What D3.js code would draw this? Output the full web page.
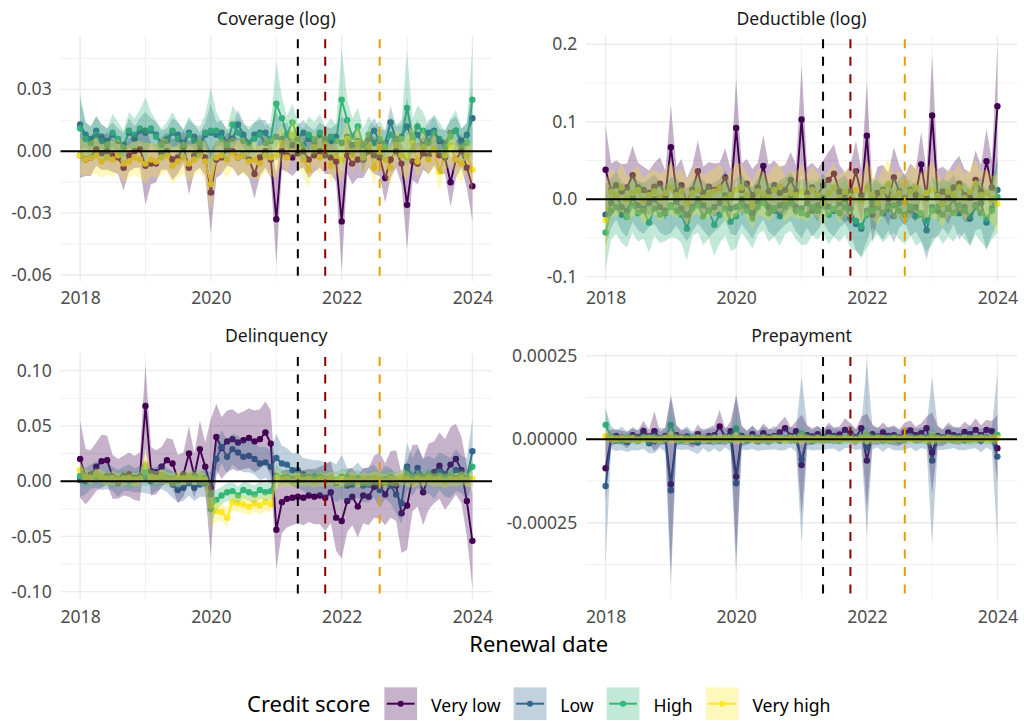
<!DOCTYPE html>
<html>
<head>
<meta charset="utf-8">
<script src="https://cdn.jsdelivr.net/npm/d3@7"></script>
<style>
  html, body { margin: 0; padding: 0; background: #ffffff; }
  svg { display: block; font-family: "Noto Sans", "Open Sans", "DejaVu Sans", sans-serif; }
</style>
</head>
<body>
<svg id="chart" width="1024" height="721"></svg>
<script>
// ---------------------------------------------------------------------------
// Monthly renewal cohorts, Jan 2018 – Jan 2024 (73 months)
// ---------------------------------------------------------------------------
const firstMonth = new Date(2018, 0, 1);
const lastMonth = new Date(2024, 0, 1);
const months = d3.timeMonth.range(firstMonth, d3.timeMonth.offset(lastMonth, 1));

const creditGroups = ["Very low", "Low", "High", "Very high"];
const groupColors = ["#440154", "#31688E", "#35B779", "#FDE725"];

// Policy event markers
const eventDates = [new Date(2021, 4, 1), new Date(2021, 9, 1), new Date(2022, 7, 1)];
const eventColors = ["#000000", "#8B0000", "#E69F00"];

const yearTicks = [2018, 2020, 2022, 2024];
const yearMinorTicks = [2019, 2021, 2023];

// ---------------------------------------------------------------------------
// Coverage (log): estimates and 95% CI half-widths
// ---------------------------------------------------------------------------
const coverageVeryLow = [
  -0.002,-0.004,-0.003,0.001,-0.001,0.000,-0.002,-0.003,-0.008,-0.002,0.000,0.001,
  -0.007,-0.006,-0.006,-0.001,0.000,-0.004,-0.003,0.002,-0.008,-0.002,0.000,-0.003,
  -0.020,-0.004,-0.003,0.001,0.000,-0.003,-0.002,-0.004,-0.011,-0.003,0.000,-0.004,
  -0.033,0.000,-0.002,-0.003,-0.001,0.000,-0.004,-0.002,0.000,-0.002,-0.003,-0.005,
  -0.034,-0.002,-0.006,-0.004,-0.004,0.000,-0.002,-0.003,-0.013,-0.004,0.000,-0.006,
  -0.026,-0.005,-0.006,-0.001,-0.002,0.001,-0.002,-0.003,-0.015,-0.004,0.000,-0.008,
  -0.017];
const coverageVeryLowCI = [
  0.011,0.008,0.009,0.008,0.008,0.009,0.008,0.008,0.011,0.008,0.008,0.009,
  0.019,0.010,0.009,0.008,0.009,0.010,0.008,0.008,0.013,0.008,0.008,0.009,
  0.020,0.009,0.008,0.008,0.008,0.009,0.008,0.009,0.012,0.009,0.008,0.009,
  0.022,0.009,0.008,0.009,0.008,0.008,0.009,0.008,0.008,0.009,0.008,0.010,
  0.024,0.009,0.010,0.009,0.009,0.008,0.009,0.009,0.012,0.009,0.008,0.010,
  0.022,0.009,0.010,0.008,0.009,0.008,0.009,0.008,0.012,0.009,0.008,0.010,
  0.017];
const coverageLow = [
  0.013,0.008,0.006,0.010,0.007,0.005,0.008,0.005,0.003,0.009,0.006,0.010,
  0.009,0.010,0.008,0.004,0.005,0.009,0.008,0.004,0.009,0.007,0.003,0.008,
  0.009,0.008,0.009,0.004,0.006,0.013,0.008,0.004,0.008,0.009,0.009,0.005,
  0.007,0.006,0.008,0.003,0.007,0.009,0.006,0.004,0.008,0.006,0.005,0.007,
  0.004,0.007,0.003,0.005,-0.004,0.006,0.010,0.005,0.004,0.014,0.006,0.007,
  0.012,0.005,0.008,0.003,0.009,0.010,0.005,0.004,0.009,0.010,0.005,0.008,
  0.016];
const coverageLowCI = [
  0.012,0.006,0.006,0.007,0.006,0.006,0.006,0.006,0.006,0.007,0.006,0.006,
  0.010,0.006,0.006,0.006,0.006,0.007,0.006,0.006,0.006,0.006,0.006,0.006,
  0.014,0.006,0.006,0.006,0.006,0.007,0.006,0.006,0.006,0.006,0.006,0.006,
  0.012,0.007,0.006,0.006,0.006,0.006,0.006,0.006,0.006,0.006,0.006,0.006,
  0.013,0.007,0.006,0.006,0.007,0.006,0.006,0.006,0.006,0.008,0.006,0.006,
  0.014,0.006,0.007,0.006,0.006,0.007,0.006,0.006,0.006,0.007,0.006,0.006,
  0.016];
const coverageHigh = [
  0.011,0.006,0.004,0.008,0.005,0.003,0.009,0.006,0.002,0.010,0.008,0.011,
  0.010,0.011,0.007,0.003,0.006,0.010,0.006,0.003,0.008,0.005,0.004,0.009,
  0.010,0.010,0.006,0.003,0.013,0.009,0.005,0.004,0.006,0.008,0.004,0.006,
  0.023,0.016,0.008,0.014,0.006,0.003,0.008,0.006,0.009,0.004,0.007,0.005,
  0.025,0.015,0.007,0.012,0.003,0.008,0.004,0.006,0.002,0.008,0.005,0.006,
  0.021,0.007,0.012,0.010,0.004,0.009,0.006,0.002,0.007,0.010,0.003,0.004,
  0.025];
const coverageHighCI = [
  0.017,0.008,0.008,0.009,0.008,0.008,0.009,0.008,0.008,0.009,0.008,0.009,
  0.016,0.008,0.008,0.008,0.008,0.009,0.008,0.008,0.009,0.008,0.008,0.009,
  0.021,0.009,0.008,0.008,0.009,0.009,0.008,0.008,0.008,0.009,0.008,0.008,
  0.021,0.010,0.009,0.009,0.008,0.008,0.009,0.008,0.009,0.008,0.009,0.008,
  0.025,0.010,0.009,0.009,0.008,0.009,0.008,0.009,0.008,0.009,0.008,0.009,
  0.028,0.009,0.010,0.009,0.008,0.009,0.008,0.008,0.009,0.010,0.008,0.009,
  0.026];
const coverageVeryHigh = [
  -0.002,-0.004,-0.003,-0.002,-0.005,-0.003,-0.004,-0.002,-0.006,-0.005,-0.003,-0.004,
  -0.006,-0.004,-0.005,-0.003,-0.002,-0.007,-0.005,-0.003,-0.006,-0.004,-0.002,-0.005,
  -0.016,-0.003,-0.002,-0.004,-0.001,-0.003,-0.002,-0.005,-0.004,-0.006,-0.002,-0.003,
  -0.002,0.004,-0.003,0.008,0.002,-0.004,-0.009,0.002,-0.003,0.003,-0.007,-0.002,
  -0.004,0.006,-0.002,0.004,-0.003,0.002,-0.008,0.001,-0.004,-0.008,0.003,-0.002,
  -0.003,0.004,-0.005,0.002,-0.004,0.001,-0.010,-0.002,0.003,-0.004,-0.006,-0.002,
  -0.009];
const coverageVeryHighCI = [
  0.009,0.008,0.008,0.009,0.008,0.008,0.009,0.008,0.009,0.008,0.008,0.009,
  0.010,0.008,0.008,0.009,0.008,0.009,0.008,0.008,0.009,0.008,0.008,0.009,
  0.013,0.008,0.008,0.009,0.008,0.008,0.009,0.008,0.009,0.008,0.008,0.009,
  0.011,0.009,0.008,0.009,0.009,0.008,0.009,0.008,0.009,0.008,0.009,0.008,
  0.011,0.009,0.008,0.009,0.008,0.009,0.009,0.008,0.009,0.009,0.008,0.009,
  0.011,0.009,0.008,0.009,0.008,0.009,0.009,0.008,0.009,0.008,0.009,0.008,
  0.012];
const coverageLimits = [-0.0629, 0.0561];
const coverageTicks = [-0.06, -0.03, 0, 0.03];
const coverageTickLabels = ["-0.06", "-0.03", "0.00", "0.03"];
const coverageMinor = [-0.045, -0.015, 0.015, 0.045];

// ---------------------------------------------------------------------------
// Deductible (log)
// ---------------------------------------------------------------------------
const deductibleVeryLow = [
  0.038,0.012,0.018,0.010,0.015,0.031,0.015,0.012,0.008,0.016,0.020,0.005,
  0.067,0.010,0.018,-0.005,0.012,0.036,0.008,0.016,0.012,0.015,0.028,0.005,
  0.092,0.012,0.020,0.005,0.015,0.043,0.010,0.018,0.008,0.012,0.025,0.010,
  0.103,0.008,0.015,0.005,0.018,0.025,0.033,0.010,0.002,0.010,0.036,0.005,
  0.082,-0.020,0.008,0.012,0.000,0.028,0.010,-0.002,0.012,0.005,0.045,0.002,
  0.108,0.005,0.010,0.002,0.015,0.020,0.005,0.002,0.025,0.010,0.049,0.015,
  0.120];
const deductibleVeryLowCI = [
  0.057,0.034,0.032,0.035,0.031,0.038,0.032,0.030,0.029,0.031,0.034,0.032,
  0.055,0.032,0.034,0.032,0.031,0.040,0.034,0.032,0.034,0.032,0.038,0.034,
  0.064,0.034,0.032,0.034,0.032,0.040,0.034,0.032,0.034,0.032,0.036,0.034,
  0.071,0.034,0.032,0.034,0.032,0.036,0.038,0.034,0.032,0.034,0.039,0.034,
  0.068,0.036,0.034,0.032,0.034,0.039,0.034,0.032,0.034,0.034,0.042,0.034,
  0.079,0.034,0.032,0.034,0.032,0.036,0.034,0.032,0.038,0.034,0.042,0.036,
  0.076];
const deductibleLow = [
  -0.020,-0.005,0.005,-0.010,-0.015,0.002,-0.008,-0.012,-0.005,0.000,-0.010,-0.015,
  -0.008,-0.003,-0.012,-0.020,-0.010,0.000,-0.008,-0.015,-0.010,-0.005,0.005,-0.012,
  -0.010,0.000,-0.010,-0.018,-0.005,0.005,-0.010,-0.015,-0.008,-0.002,0.004,-0.010,
  -0.012,-0.005,-0.015,-0.008,0.002,-0.010,-0.015,-0.005,0.000,-0.012,-0.032,-0.038,
  -0.015,-0.005,-0.010,-0.018,-0.008,-0.022,-0.005,0.002,-0.015,-0.010,-0.020,-0.040,
  -0.010,-0.015,-0.005,-0.012,0.000,-0.018,-0.010,-0.025,-0.008,-0.005,-0.030,-0.012,
  0.012];
const deductibleLowCI = [
  0.040,0.032,0.031,0.032,0.034,0.031,0.032,0.033,0.031,0.032,0.033,0.032,
  0.036,0.031,0.032,0.034,0.032,0.031,0.032,0.034,0.032,0.031,0.032,0.033,
  0.037,0.032,0.031,0.033,0.032,0.031,0.032,0.033,0.032,0.031,0.032,0.032,
  0.038,0.032,0.033,0.032,0.031,0.032,0.033,0.032,0.031,0.032,0.034,0.036,
  0.038,0.032,0.033,0.034,0.032,0.034,0.032,0.031,0.033,0.032,0.034,0.038,
  0.040,0.033,0.032,0.034,0.032,0.034,0.032,0.035,0.032,0.033,0.036,0.034,
  0.042];
const deductibleHigh = [
  -0.043,-0.015,-0.010,-0.020,-0.023,-0.008,-0.018,-0.015,-0.030,-0.012,-0.020,-0.018,
  -0.010,-0.015,-0.020,-0.038,-0.012,-0.008,-0.022,-0.015,-0.033,-0.020,-0.012,-0.029,
  -0.022,-0.008,-0.015,-0.025,-0.010,-0.005,-0.018,-0.012,-0.022,-0.010,-0.005,-0.015,
  -0.018,-0.020,-0.010,-0.015,-0.008,-0.020,-0.012,-0.018,-0.010,-0.025,-0.028,-0.035,
  -0.020,-0.015,-0.010,-0.018,-0.012,-0.008,-0.015,-0.020,-0.010,-0.022,-0.018,-0.028,
  -0.015,-0.010,-0.020,-0.012,-0.018,-0.008,-0.015,-0.022,-0.010,-0.018,-0.025,-0.015,
  0.003];
const deductibleHighCI = [
  0.048,0.037,0.035,0.037,0.039,0.035,0.037,0.036,0.039,0.035,0.037,0.036,
  0.039,0.035,0.037,0.041,0.036,0.035,0.037,0.036,0.040,0.037,0.035,0.038,
  0.041,0.035,0.037,0.039,0.036,0.035,0.037,0.036,0.038,0.035,0.036,0.037,
  0.041,0.038,0.036,0.037,0.035,0.038,0.036,0.037,0.036,0.038,0.039,0.041,
  0.043,0.037,0.036,0.038,0.036,0.035,0.037,0.038,0.036,0.038,0.037,0.040,
  0.043,0.036,0.038,0.036,0.037,0.035,0.037,0.038,0.036,0.037,0.039,0.037,
  0.046];
const deductibleVeryHigh = [
  -0.027,0.010,0.005,0.015,0.000,0.008,0.012,-0.002,0.005,0.010,0.002,0.008,
  0.015,0.005,0.010,-0.005,0.008,0.012,0.002,0.006,0.010,0.015,0.000,0.005,
  0.012,0.015,0.005,-0.008,0.010,0.006,0.002,0.012,0.016,0.000,0.008,0.005,
  0.010,0.002,0.012,0.005,-0.005,0.008,0.015,0.000,0.010,0.004,0.012,-0.002,
  0.015,0.005,-0.005,0.010,0.020,0.002,0.008,-0.002,0.010,0.015,0.002,0.008,
  0.012,0.004,-0.006,0.010,0.005,0.015,0.002,0.010,0.020,0.005,0.008,0.000,
  -0.006];
const deductibleVeryHighCI = [
  0.050,0.030,0.029,0.031,0.029,0.030,0.031,0.029,0.030,0.029,0.031,0.029,
  0.034,0.029,0.030,0.029,0.030,0.031,0.029,0.030,0.029,0.031,0.029,0.030,
  0.035,0.030,0.029,0.031,0.030,0.029,0.030,0.031,0.029,0.030,0.029,0.030,
  0.035,0.030,0.031,0.029,0.030,0.029,0.031,0.030,0.029,0.030,0.031,0.029,
  0.036,0.030,0.029,0.031,0.032,0.030,0.029,0.030,0.031,0.029,0.030,0.031,
  0.037,0.030,0.031,0.029,0.030,0.031,0.029,0.030,0.032,0.030,0.031,0.030,
  0.038];
const deductibleLimits = [-0.1056, 0.2113];
const deductibleTicks = [-0.1, 0, 0.1, 0.2];
const deductibleTickLabels = ["-0.1", "0.0", "0.1", "0.2"];
const deductibleMinor = [-0.05, 0.05, 0.15];

// ---------------------------------------------------------------------------
// Delinquency
// ---------------------------------------------------------------------------
const delinquencyVeryLow = [
  0.020,0.004,0.006,0.013,0.018,0.019,0.004,0.002,0.005,0.006,0.003,0.004,
  0.068,0.009,0.008,0.013,0.019,0.016,0.002,0.006,0.025,0.005,0.029,0.013,
  -0.006,0.040,0.030,0.036,0.038,0.035,0.037,0.039,0.036,0.038,0.044,0.034,
  -0.044,-0.019,-0.016,-0.015,-0.014,-0.015,-0.013,-0.014,-0.013,-0.015,-0.010,-0.033,
  -0.036,-0.018,-0.014,-0.023,-0.013,-0.014,-0.005,-0.004,-0.012,-0.003,-0.004,-0.029,
  -0.022,0.003,0.005,-0.010,0.004,0.008,0.014,0.006,0.015,0.020,0.010,-0.018,
  -0.054];
const delinquencyVeryLowCI = [
  0.035,0.025,0.022,0.022,0.024,0.022,0.020,0.018,0.018,0.020,0.020,0.022,
  0.038,0.022,0.020,0.018,0.020,0.022,0.022,0.020,0.025,0.020,0.026,0.022,
  0.062,0.030,0.028,0.028,0.027,0.026,0.026,0.027,0.028,0.027,0.028,0.030,
  0.036,0.028,0.026,0.025,0.024,0.025,0.024,0.025,0.026,0.030,0.028,0.030,
  0.034,0.028,0.026,0.028,0.025,0.026,0.028,0.030,0.028,0.030,0.032,0.036,
  0.040,0.030,0.028,0.030,0.030,0.028,0.030,0.032,0.034,0.032,0.030,0.032,
  0.043];
const delinquencyLow = [
  0.001,0.000,0.004,0.006,0.003,0.005,0.002,-0.002,0.002,0.003,0.001,0.002,
  0.003,0.000,0.002,0.005,0.001,-0.003,-0.008,-0.006,-0.002,-0.006,-0.003,-0.002,
  -0.012,0.020,0.031,0.022,0.029,0.026,0.022,0.023,0.020,0.016,0.017,0.013,
  0.021,0.016,0.015,0.010,0.010,0.006,0.004,0.004,0.003,0.001,0.002,-0.002,
  0.004,-0.004,-0.003,0.001,-0.004,-0.003,0.000,-0.008,-0.001,-0.004,-0.012,-0.020,
  0.013,0.004,0.012,0.004,0.006,0.002,0.009,0.005,0.003,0.010,0.006,0.002,
  0.027];
const delinquencyLowCI = [
  0.015,0.012,0.011,0.012,0.011,0.012,0.011,0.012,0.011,0.012,0.011,0.012,
  0.014,0.012,0.011,0.012,0.011,0.012,0.011,0.012,0.011,0.012,0.011,0.012,
  0.020,0.016,0.015,0.015,0.014,0.015,0.014,0.015,0.014,0.015,0.014,0.015,
  0.022,0.016,0.015,0.015,0.016,0.015,0.016,0.015,0.016,0.015,0.016,0.017,
  0.020,0.016,0.015,0.016,0.015,0.016,0.015,0.016,0.015,0.016,0.017,0.019,
  0.022,0.017,0.018,0.016,0.017,0.018,0.017,0.019,0.018,0.019,0.017,0.019,
  0.030];
const delinquencyHigh = [
  0.005,0.002,0.003,0.004,0.002,0.003,0.001,0.002,0.003,0.000,0.002,0.003,
  0.008,0.003,0.002,0.004,0.003,0.002,0.000,0.003,0.002,0.004,0.003,0.003,
  -0.025,-0.017,-0.013,-0.010,-0.009,-0.013,-0.008,-0.010,-0.012,-0.008,-0.010,-0.009,
  0.005,0.003,0.004,0.002,0.003,0.001,0.003,0.002,0.004,0.002,0.003,0.001,
  0.002,0.004,0.001,0.003,0.000,0.002,0.003,0.001,0.002,0.004,0.001,0.003,
  0.006,0.003,0.004,0.002,0.005,0.003,0.004,0.002,0.005,0.003,0.004,0.003,
  0.013];
const delinquencyHighCI = [
  0.009,0.007,0.007,0.007,0.007,0.007,0.007,0.007,0.007,0.007,0.007,0.007,
  0.012,0.007,0.007,0.007,0.007,0.007,0.007,0.007,0.007,0.007,0.007,0.007,
  0.016,0.009,0.008,0.008,0.008,0.008,0.008,0.008,0.008,0.008,0.008,0.008,
  0.010,0.007,0.007,0.007,0.007,0.007,0.007,0.007,0.007,0.007,0.007,0.007,
  0.009,0.007,0.007,0.007,0.007,0.007,0.007,0.007,0.007,0.007,0.007,0.007,
  0.009,0.007,0.007,0.007,0.007,0.007,0.007,0.007,0.007,0.007,0.007,0.007,
  0.012];
const delinquencyVeryHigh = [
  0.010,0.004,0.003,0.006,0.004,0.002,0.003,0.001,0.002,0.003,0.001,0.002,
  0.015,0.004,0.003,0.005,0.002,0.001,0.003,0.002,0.004,0.002,0.003,0.001,
  -0.022,-0.027,-0.028,-0.033,-0.019,-0.020,-0.021,-0.023,-0.020,-0.022,-0.019,-0.021,
  0.003,0.001,0.002,0.000,0.003,0.001,0.002,0.000,0.002,0.001,0.003,0.000,
  0.002,0.001,0.003,0.000,0.002,0.001,0.003,0.002,0.000,0.002,0.001,0.003,
  0.002,0.000,0.002,0.001,0.003,0.001,0.002,0.000,0.002,0.001,0.003,0.001,
  0.002];
const delinquencyVeryHighCI = [
  0.008,0.006,0.006,0.006,0.006,0.006,0.006,0.006,0.006,0.006,0.006,0.006,
  0.013,0.006,0.006,0.006,0.006,0.006,0.006,0.006,0.006,0.006,0.006,0.006,
  0.020,0.009,0.008,0.009,0.008,0.008,0.008,0.008,0.008,0.008,0.008,0.008,
  0.008,0.006,0.006,0.006,0.006,0.006,0.006,0.006,0.006,0.006,0.006,0.006,
  0.007,0.006,0.006,0.006,0.006,0.006,0.006,0.006,0.006,0.006,0.006,0.006,
  0.007,0.006,0.006,0.006,0.006,0.006,0.006,0.006,0.006,0.006,0.006,0.006,
  0.008];
const delinquencyLimits = [-0.1069, 0.1157];
const delinquencyTicks = [-0.10, -0.05, 0, 0.05, 0.10];
const delinquencyTickLabels = ["-0.10", "-0.05", "0.00", "0.05", "0.10"];
const delinquencyMinor = [-0.075, -0.025, 0.025, 0.075];

// ---------------------------------------------------------------------------
// Prepayment
// ---------------------------------------------------------------------------
const prepaymentVeryLow = [
  -8.7e-5,0.3e-5,1.0e-5,0.5e-5,-0.3e-5,1.2e-5,0.6e-5,2.5e-5,0.8e-5,2.4e-5,0.2e-5,1.0e-5,
  -13.5e-5,1.2e-5,0.5e-5,0.8e-5,-0.5e-5,1.5e-5,0.4e-5,1.0e-5,1.2e-5,3.8e-5,0.6e-5,2.4e-5,
  -11.2e-5,1.0e-5,0.4e-5,1.5e-5,0.2e-5,1.8e-5,0.6e-5,1.0e-5,2.0e-5,3.3e-5,1.0e-5,2.4e-5,
  -7.7e-5,1.2e-5,0.8e-5,1.5e-5,0.6e-5,2.0e-5,1.0e-5,1.4e-5,2.8e-5,1.8e-5,0.6e-5,3.3e-5,
  -6.4e-5,1.5e-5,0.8e-5,2.0e-5,1.0e-5,1.2e-5,0.5e-5,2.0e-5,2.6e-5,1.2e-5,1.8e-5,3.3e-5,
  -4.0e-5,1.0e-5,0.5e-5,2.0e-5,1.2e-5,0.8e-5,2.2e-5,1.5e-5,2.8e-5,1.2e-5,2.8e-5,2.4e-5,
  -2.7e-5];
const prepaymentVeryLowCI = [
  10e-5,2.5e-5,2e-5,2e-5,2.5e-5,2e-5,2e-5,3e-5,2e-5,6e-5,2e-5,2.5e-5,
  26e-5,3e-5,2e-5,2.5e-5,2e-5,3e-5,2e-5,2.5e-5,3e-5,5e-5,2.5e-5,3e-5,
  24e-5,3e-5,2e-5,2.5e-5,2e-5,3e-5,2.5e-5,2e-5,3e-5,3.5e-5,2.5e-5,3e-5,
  15e-5,3e-5,2.5e-5,2.5e-5,2e-5,3e-5,2.5e-5,2.5e-5,3.5e-5,3e-5,2.5e-5,3.5e-5,
  14e-5,3e-5,2.5e-5,3e-5,2.5e-5,3e-5,2.5e-5,3e-5,3e-5,2.5e-5,3e-5,3.5e-5,
  12e-5,3e-5,2.5e-5,3e-5,2.5e-5,2.5e-5,3e-5,2.5e-5,3.5e-5,3e-5,3e-5,3e-5,
  10e-5];
const prepaymentLow = [
  -14.0e-5,0.5e-5,-0.5e-5,0.3e-5,-0.8e-5,0.2e-5,-0.4e-5,0.6e-5,-1.2e-5,-0.6e-5,0.4e-5,-0.3e-5,
  -15.3e-5,0.6e-5,-0.2e-5,0.4e-5,-0.6e-5,-1.0e-5,0.3e-5,-0.5e-5,0.2e-5,-0.4e-5,0.5e-5,-0.2e-5,
  -13.2e-5,0.4e-5,-0.3e-5,0.6e-5,-0.5e-5,0.3e-5,-0.2e-5,0.5e-5,-0.4e-5,0.2e-5,0.6e-5,-0.3e-5,
  -6.0e-5,0.5e-5,-0.4e-5,0.3e-5,-0.2e-5,0.6e-5,0.2e-5,-0.3e-5,0.4e-5,0.8e-5,-0.2e-5,0.5e-5,
  -2.5e-5,0.4e-5,0.6e-5,-0.3e-5,0.5e-5,0.2e-5,-0.4e-5,0.3e-5,0.6e-5,-0.2e-5,0.4e-5,0.5e-5,
  -6.4e-5,0.3e-5,-0.2e-5,0.5e-5,0.4e-5,0.2e-5,-0.3e-5,0.6e-5,0.3e-5,-0.4e-5,0.5e-5,0.2e-5,
  -5.2e-5];
const prepaymentLowCI = [
  23e-5,3.5e-5,3e-5,3.5e-5,3e-5,3.5e-5,3e-5,3.5e-5,3e-5,3.5e-5,3e-5,3.5e-5,
  29e-5,3.5e-5,3e-5,3.5e-5,3e-5,3.5e-5,3e-5,3.5e-5,3e-5,3.5e-5,3e-5,3.5e-5,
  27e-5,3.5e-5,3e-5,3.5e-5,3e-5,3.5e-5,3e-5,3.5e-5,3e-5,3.5e-5,3e-5,3.5e-5,
  25e-5,3.5e-5,3e-5,3.5e-5,3e-5,3.5e-5,3e-5,3.5e-5,3e-5,3.5e-5,3e-5,3.5e-5,
  26e-5,3.5e-5,3e-5,3.5e-5,3e-5,3.5e-5,3e-5,3.5e-5,3e-5,3.5e-5,3e-5,3.5e-5,
  25e-5,3.5e-5,3e-5,3.5e-5,3e-5,3.5e-5,3e-5,3.5e-5,3e-5,3.5e-5,3e-5,3.5e-5,
  25e-5];
const prepaymentHigh = [
  4.3e-5,0.5e-5,0.2e-5,-0.3e-5,0.4e-5,0.1e-5,-0.2e-5,0.3e-5,0.0,0.4e-5,-0.2e-5,0.2e-5,
  4.3e-5,0.3e-5,-0.2e-5,0.2e-5,0.4e-5,-0.1e-5,0.2e-5,0.0,0.3e-5,-0.3e-5,0.2e-5,0.1e-5,
  3.2e-5,0.2e-5,-0.1e-5,0.3e-5,0.0,0.2e-5,-0.2e-5,0.3e-5,0.1e-5,-0.1e-5,0.2e-5,0.0,
  1.5e-5,0.2e-5,-0.2e-5,0.1e-5,0.3e-5,0.0,0.2e-5,-0.2e-5,0.1e-5,0.3e-5,-0.1e-5,0.2e-5,
  1.2e-5,0.1e-5,0.3e-5,-0.2e-5,0.0,0.2e-5,0.1e-5,-0.1e-5,0.3e-5,0.0,0.2e-5,-0.2e-5,
  1.0e-5,0.2e-5,0.0,0.3e-5,-0.1e-5,0.2e-5,0.1e-5,-0.2e-5,0.0,0.3e-5,0.1e-5,-0.1e-5,
  1.3e-5];
const prepaymentHighCI = [
  5e-5,1.5e-5,1.5e-5,1.5e-5,1.5e-5,1.5e-5,1.5e-5,1.5e-5,1.5e-5,1.5e-5,1.5e-5,1.5e-5,
  4e-5,1.5e-5,1.5e-5,1.5e-5,1.5e-5,1.5e-5,1.5e-5,1.5e-5,1.5e-5,1.5e-5,1.5e-5,1.5e-5,
  4e-5,1.5e-5,1.5e-5,1.5e-5,1.5e-5,1.5e-5,1.5e-5,1.5e-5,1.5e-5,1.5e-5,1.5e-5,1.5e-5,
  2.5e-5,1.5e-5,1.5e-5,1.5e-5,1.5e-5,1.5e-5,1.5e-5,1.5e-5,1.5e-5,1.5e-5,1.5e-5,1.5e-5,
  2.5e-5,1.5e-5,1.5e-5,1.5e-5,1.5e-5,1.5e-5,1.5e-5,1.5e-5,1.5e-5,1.5e-5,1.5e-5,1.5e-5,
  2.5e-5,1.5e-5,1.5e-5,1.5e-5,1.5e-5,1.5e-5,1.5e-5,1.5e-5,1.5e-5,1.5e-5,1.5e-5,1.5e-5,
  2.5e-5];
const prepaymentVeryHigh = [
  1.0e-5,0.2e-5,-0.1e-5,0.3e-5,0.0,0.2e-5,-0.2e-5,0.1e-5,0.3e-5,0.0,-0.1e-5,0.2e-5,
  0.5e-5,0.1e-5,0.2e-5,-0.2e-5,0.0,0.3e-5,0.1e-5,-0.1e-5,0.2e-5,0.0,0.3e-5,0.1e-5,
  0.4e-5,0.0,0.2e-5,0.1e-5,-0.2e-5,0.3e-5,0.0,0.2e-5,0.1e-5,-0.1e-5,0.2e-5,0.0,
  0.3e-5,0.1e-5,0.0,0.2e-5,-0.1e-5,0.3e-5,0.1e-5,0.0,0.2e-5,0.1e-5,-0.2e-5,0.2e-5,
  0.3e-5,0.0,0.2e-5,0.1e-5,-0.1e-5,0.2e-5,0.0,0.3e-5,0.1e-5,0.0,0.2e-5,-0.1e-5,
  0.2e-5,0.1e-5,0.0,0.3e-5,0.1e-5,-0.1e-5,0.2e-5,0.0,0.1e-5,0.3e-5,0.0,0.2e-5,
  0.3e-5];
const prepaymentVeryHighCI = [
  2e-5,1.2e-5,1.2e-5,1.2e-5,1.2e-5,1.2e-5,1.2e-5,1.2e-5,1.2e-5,1.2e-5,1.2e-5,1.2e-5,
  2e-5,1.2e-5,1.2e-5,1.2e-5,1.2e-5,1.2e-5,1.2e-5,1.2e-5,1.2e-5,1.2e-5,1.2e-5,1.2e-5,
  2e-5,1.2e-5,1.2e-5,1.2e-5,1.2e-5,1.2e-5,1.2e-5,1.2e-5,1.2e-5,1.2e-5,1.2e-5,1.2e-5,
  2e-5,1.2e-5,1.2e-5,1.2e-5,1.2e-5,1.2e-5,1.2e-5,1.2e-5,1.2e-5,1.2e-5,1.2e-5,1.2e-5,
  2e-5,1.2e-5,1.2e-5,1.2e-5,1.2e-5,1.2e-5,1.2e-5,1.2e-5,1.2e-5,1.2e-5,1.2e-5,1.2e-5,
  2e-5,1.2e-5,1.2e-5,1.2e-5,1.2e-5,1.2e-5,1.2e-5,1.2e-5,1.2e-5,1.2e-5,1.2e-5,1.2e-5,
  2e-5];
const prepaymentLimits = [-0.0004793, 0.0002572];
const prepaymentTicks = [-0.00025, 0, 0.00025];
const prepaymentTickLabels = ["-0.00025", "0.00000", "0.00025"];
const prepaymentMinor = [-0.000375, -0.000125, 0.000125];

// ---------------------------------------------------------------------------
// Facet definitions
// ---------------------------------------------------------------------------
const facets = [
  { title: "Coverage (log)",
    est: [coverageVeryLow, coverageLow, coverageHigh, coverageVeryHigh],
    ci: [coverageVeryLowCI, coverageLowCI, coverageHighCI, coverageVeryHighCI],
    limits: coverageLimits, ticks: coverageTicks, labels: coverageTickLabels, minor: coverageMinor },
  { title: "Deductible (log)",
    est: [deductibleVeryLow, deductibleLow, deductibleHigh, deductibleVeryHigh],
    ci: [deductibleVeryLowCI, deductibleLowCI, deductibleHighCI, deductibleVeryHighCI],
    limits: deductibleLimits, ticks: deductibleTicks, labels: deductibleTickLabels, minor: deductibleMinor },
  { title: "Delinquency",
    est: [delinquencyVeryLow, delinquencyLow, delinquencyHigh, delinquencyVeryHigh],
    ci: [delinquencyVeryLowCI, delinquencyLowCI, delinquencyHighCI, delinquencyVeryHighCI],
    limits: delinquencyLimits, ticks: delinquencyTicks, labels: delinquencyTickLabels, minor: delinquencyMinor },
  { title: "Prepayment",
    est: [prepaymentVeryLow, prepaymentLow, prepaymentHigh, prepaymentVeryHigh],
    ci: [prepaymentVeryLowCI, prepaymentLowCI, prepaymentHighCI, prepaymentVeryHighCI],
    limits: prepaymentLimits, ticks: prepaymentTicks, labels: prepaymentTickLabels, minor: prepaymentMinor }
];

// ---------------------------------------------------------------------------
// Layout
// ---------------------------------------------------------------------------
const svg = d3.select("#chart");
const gridColor = "#EBEBEB";
const tickColor = "#4D4D4D";
const smallText = "17.6px";
const largeText = "22px";
const panelBoxes = [
  { x0: 60.5, x1: 492,  y0: 35.5,  y1: 281 },
  { x0: 586,  x1: 1017, y0: 35.5,  y1: 281 },
  { x0: 60.5, x1: 492,  y0: 353.3, y1: 599.3 },
  { x0: 586,  x1: 1017, y0: 353.3, y1: 599.3 }
];

// x range padded by 5% on each side of the data span
const span = lastMonth - firstMonth;
const xDomain = [new Date(+firstMonth - 0.05 * span), new Date(+lastMonth + 0.05 * span)];

facets.forEach((f, k) => {
  const b = panelBoxes[k];
  const x = d3.scaleTime().domain(xDomain).range([b.x0, b.x1]);
  const y = d3.scaleLinear().domain(f.limits).range([b.y1, b.y0]);
  const g = svg.append("g");

  // grid
  g.selectAll(null).data(f.minor).join("line")
    .attr("x1", b.x0).attr("x2", b.x1)
    .attr("y1", d => y(d)).attr("y2", d => y(d))
    .attr("stroke", gridColor).attr("stroke-width", 0.7);
  g.selectAll(null).data(yearMinorTicks).join("line")
    .attr("x1", d => x(new Date(d, 0, 1))).attr("x2", d => x(new Date(d, 0, 1)))
    .attr("y1", b.y0).attr("y2", b.y1)
    .attr("stroke", gridColor).attr("stroke-width", 0.7);
  g.selectAll(null).data(f.ticks).join("line")
    .attr("x1", b.x0).attr("x2", b.x1)
    .attr("y1", d => y(d)).attr("y2", d => y(d))
    .attr("stroke", gridColor).attr("stroke-width", 1.4);
  g.selectAll(null).data(yearTicks).join("line")
    .attr("x1", d => x(new Date(d, 0, 1))).attr("x2", d => x(new Date(d, 0, 1)))
    .attr("y1", b.y0).attr("y2", b.y1)
    .attr("stroke", gridColor).attr("stroke-width", 1.4);

  const clipId = "clip" + k;
  svg.append("clipPath").attr("id", clipId).append("rect")
    .attr("x", b.x0).attr("y", b.y0).attr("width", b.x1 - b.x0).attr("height", b.y1 - b.y0);
  const plot = g.append("g").attr("clip-path", `url(#${clipId})`);

  const series = creditGroups.map((name, i) => ({
    name, color: groupColors[i],
    pts: months.map((m, j) => ({ date: m, v: f.est[i][j], lo: f.est[i][j] - f.ci[i][j], hi: f.est[i][j] + f.ci[i][j] }))
  }));

  const line = d3.line().x(d => x(d.date)).y(d => y(d.v));
  const area = d3.area().x(d => x(d.date)).y0(d => y(d.lo)).y1(d => y(d.hi));

  // estimate lines
  plot.selectAll(null).data(series).join("path")
    .attr("d", s => line(s.pts)).attr("fill", "none")
    .attr("stroke", s => s.color).attr("stroke-width", 1.9).attr("stroke-linejoin", "round");
  // estimate points
  series.forEach(s => {
    plot.selectAll(null).data(s.pts).join("circle")
      .attr("cx", d => x(d.date)).attr("cy", d => y(d.v)).attr("r", 3.2)
      .attr("fill", s.color);
  });
  // confidence ribbons
  plot.selectAll(null).data(series).join("path")
    .attr("d", s => area(s.pts)).attr("fill", s => s.color).attr("fill-opacity", 0.3);

  // zero reference
  g.append("line").attr("x1", b.x0).attr("x2", b.x1)
    .attr("y1", y(0)).attr("y2", y(0)).attr("stroke", "#000").attr("stroke-width", 2);

  // event markers
  g.selectAll(null).data(eventDates).join("line")
    .attr("x1", d => x(d)).attr("x2", d => x(d))
    .attr("y1", b.y0 + 3.8).attr("y2", b.y1)
    .attr("stroke", (d, i) => eventColors[i]).attr("stroke-width", 2)
    .attr("stroke-dasharray", "9 8.5");

  // axes
  const yAxis = d3.axisLeft(y).tickValues(f.ticks)
    .tickFormat((d, i) => f.labels[i]).tickSize(0).tickPadding(8.8);
  const ya = g.append("g").attr("transform", `translate(${b.x0},0)`).call(yAxis);
  const xAxis = d3.axisBottom(x).tickValues(yearTicks.map(d => new Date(d, 0, 1)))
    .tickFormat(d3.timeFormat("%Y")).tickSize(0).tickPadding(10.8);
  const xa = g.append("g").attr("transform", `translate(0,${b.y1})`).call(xAxis);
  [ya, xa].forEach(a => {
    a.select(".domain").remove();
    a.attr("font-family", null).attr("font-size", null);
    a.selectAll("text").attr("fill", tickColor).style("font-size", smallText);
  });

  // facet title
  g.append("text").attr("x", (b.x0 + b.x1) / 2).attr("y", b.y0 - 11)
    .attr("text-anchor", "middle").attr("fill", "#1A1A1A").style("font-size", smallText)
    .text(f.title);
});

// x axis title
svg.append("text").attr("x", (panelBoxes[0].x0 + panelBoxes[1].x1) / 2).attr("y", 652)
  .attr("text-anchor", "middle").attr("fill", "#000").style("font-size", largeText)
  .text("Renewal date");

// legend
const legend = svg.append("g");
const legendY = 703.7;
const keyW = 32.7, keyH = 32.7;
const legendTitle = legend.append("text").attr("x", 0).attr("y", 711.5)
  .style("font-size", largeText).attr("fill", "#000").text("Credit score");
let cursor = legendTitle.node().getComputedTextLength() + 14;
creditGroups.forEach((name, i) => {
  const item = legend.append("g").attr("transform", `translate(${cursor},0)`);
  item.append("rect").attr("x", 0).attr("y", legendY - keyH / 2).attr("width", keyW).attr("height", keyH)
    .attr("fill", groupColors[i]).attr("fill-opacity", 0.3);
  item.append("line").attr("x1", 2.5).attr("x2", keyW - 2.5).attr("y1", legendY).attr("y2", legendY)
    .attr("stroke", groupColors[i]).attr("stroke-width", 2);
  item.append("circle").attr("cx", keyW / 2).attr("cy", legendY).attr("r", 3).attr("fill", groupColors[i]);
  const t = item.append("text").attr("x", keyW + 14).attr("y", 711.5)
    .style("font-size", smallText).attr("fill", "#000").text(name);
  cursor += keyW + 14 + t.node().getComputedTextLength() + (i < creditGroups.length - 1 ? 13 : 0);
});
const legendCenter = (panelBoxes[0].x0 + panelBoxes[1].x1) / 2;
legend.attr("transform", `translate(${legendCenter - cursor / 2},0)`);
</script>
</body>
</html>
